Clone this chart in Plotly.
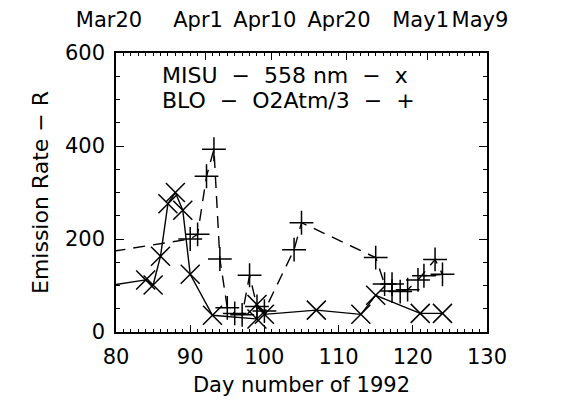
import plotly.graph_objects as go

# MISU 558 nm (solid, x markers)
misu_day = [78, 84, 85, 86, 87, 88, 89, 90, 93, 99, 99, 100, 107, 113, 115, 121, 124]
misu_val = [97, 112, 101, 163, 276, 300, 262, 124, 36, 28, 59, 38, 47, 38, 79, 40, 40]

# BLO O2Atm/3 (dashed, + markers)
blo_day = [77, 90, 91, 92.2, 93.2, 94, 95, 96, 97, 98, 99, 100, 104, 105, 115,
           116.2, 117.2, 117.2, 118.3, 119.3, 120.7, 123, 124, 121.5]
blo_val = [167, 200, 210, 335, 393, 157, 52, 40, 37, 122, 55, 45, 177, 235, 160,
           103, 103, 88, 87, 91, 112, 156, 124, 121]

top_vals = [80, 92, 101, 111, 122, 130]
top_text = ["Mar20", "Apr1", "Apr10", "Apr20", "May1", "May9"]

FONT = "DejaVu Sans"
FS = 21

fig = go.Figure()
fig.add_trace(go.Scatter(
    x=misu_day, y=misu_val, mode="lines+markers",
    line=dict(color="black", width=1.4),
    marker=dict(symbol="x-thin-open", size=19, line=dict(color="black", width=1.5)),
    cliponaxis=True, showlegend=False))
fig.add_trace(go.Scatter(
    x=blo_day, y=blo_val, mode="lines+markers",
    line=dict(color="black", width=1.4, dash="12px,8px"),
    marker=dict(symbol="cross-thin-open", size=17, line=dict(color="black", width=1.5)),
    cliponaxis=True, showlegend=False))

axis_common = dict(showgrid=False, zeroline=False, showline=True, linecolor="black",
                   linewidth=1.5, ticks="inside", tickcolor="black", tickwidth=1.2,
                   automargin=False, tickangle=0,
                   tickfont=dict(family=FONT, size=FS, color="black"))

fig.update_layout(
    width=574, height=411,
    margin=dict(l=116, r=87, t=53, b=79),
    paper_bgcolor="white", plot_bgcolor="white",
    xaxis=dict(range=[80, 130], dtick=10, tick0=80, ticklen=7,
               minor=dict(dtick=1, tick0=80, ticklen=3, ticks="inside", tickcolor="black"),
               ticklabelstandoff=5,
               title=dict(text="Day number of 1992", font=dict(family=FONT, size=FS, color="black"),
                          standoff=9),
               **axis_common),
    xaxis2=dict(range=[80, 130], overlaying="x", side="top", anchor="y",
                tickmode="array", tickvals=top_vals, ticktext=top_text, ticklen=7,
                minor=dict(tickmode="linear", dtick=1, tick0=80, ticklen=3, ticks="inside",
                           tickcolor="black"),
                ticklabelstandoff=16, ticklabelshift=-7,
                **axis_common),
    yaxis=dict(range=[0, 600], dtick=200, ticklen=8, mirror="ticks",
               minor=dict(dtick=50, ticklen=4, ticks="inside", tickcolor="black"),
               ticklabelstandoff=5,
               title=dict(text="Emission Rate \u2212 R", font=dict(family=FONT, size=22, color="black"),
                          standoff=10),
               **axis_common),
)
# invisible trace so the top axis renders
fig.add_trace(go.Scatter(x=[80], y=[-100], xaxis="x2", mode="markers",
                         marker=dict(opacity=0), showlegend=False, hoverinfo="skip"))

nb = "\u00a0"
line1 = f"MISU{nb}{nb}\u2212{nb}{nb}558{nb}nm{nb}{nb}\u2212{nb}{nb}x"
line2 = f"BLO{nb}{nb}\u2212{nb}{nb}O2Atm/3{nb}{nb}\u2212{nb}{nb}+"
fig.add_annotation(xref="paper", yref="paper", x=0.12, y=0.918, xanchor="left", yanchor="middle",
                   text=line1, showarrow=False, borderpad=0,
                   font=dict(family=FONT, size=22, color="black"))
fig.add_annotation(xref="paper", yref="paper", x=0.12, y=0.830, xanchor="left", yanchor="middle",
                   text=line2, showarrow=False, borderpad=0,
                   font=dict(family=FONT, size=22, color="black"))

fig.write_html("out.html")
